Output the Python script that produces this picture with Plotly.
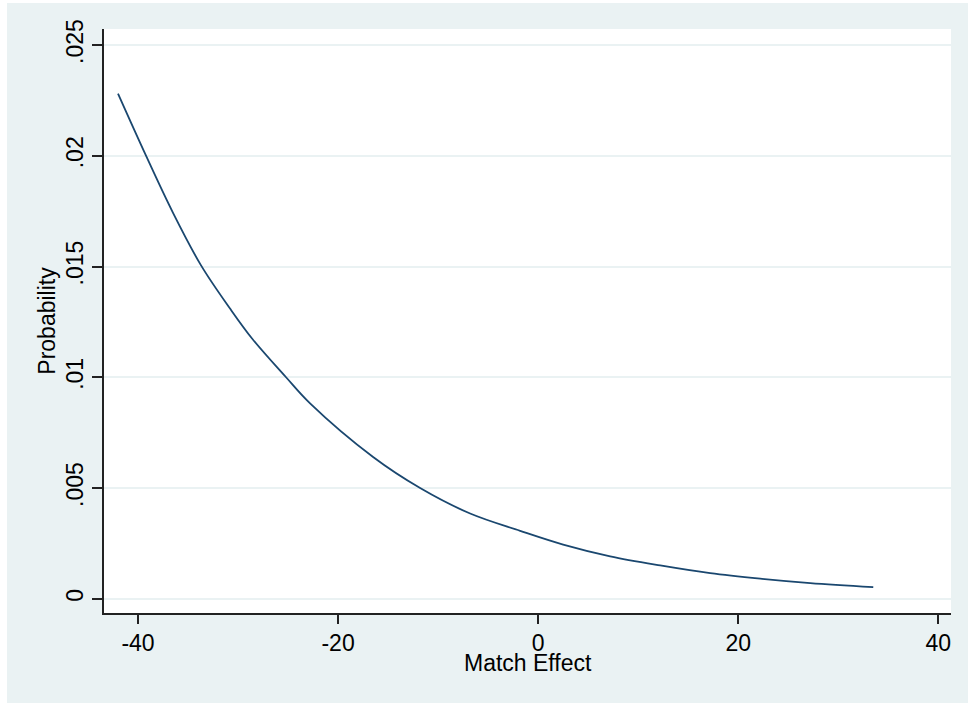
import plotly.graph_objects as go

# Data
match_effect = [-42.0, -39.2, -36.5, -33.7, -30.8, -28.6, -25.2, -22.8, -16.5, -11.8,
                -6.8, -1.8, 2.5, 7.2, 12.2, 17.2, 22.2, 27.2, 33.5]
probability = [0.0228, 0.0200, 0.01742, 0.01505, 0.0131, 0.01175, 0.0100, 0.00882, 0.0064,
               0.0050, 0.00385, 0.00307, 0.00245, 0.00192, 0.00151, 0.00116, 0.00091,
               0.00071, 0.00053]

y_tickvals = [0, 0.005, 0.01, 0.015, 0.02, 0.025]
y_ticktext = ["0", ".005", ".01", ".015", ".02", ".025"]
x_tickvals = [-40, -20, 0, 20, 40]
x_ticktext = ["-40", "-20", "0", "20", "40"]

BG = "#EAF2F3"
LINE = "#1A476F"
AXIS = "#222222"
FONT = "Liberation Sans, Arial, sans-serif"

fig = go.Figure()
fig.add_trace(go.Scatter(
    x=match_effect, y=probability, mode="lines",
    line=dict(color=LINE, width=1.8, shape="spline", smoothing=1.0),
    showlegend=False, hoverinfo="x+y",
))

fig.update_layout(
    width=968, height=703,
    margin=dict(l=104, r=17.3, t=29, b=90.3, pad=0),
    paper_bgcolor=BG, plot_bgcolor="white",
    font=dict(family=FONT, size=23, color="black"),
    showlegend=False,
    shapes=[
        dict(type="rect", xref="paper", yref="paper", x0=-0.14, x1=-0.11456, y0=-0.2, y1=1.1,
             fillcolor="white", line=dict(width=0), layer="below"),
        dict(type="rect", xref="paper", yref="paper", x0=-0.14, x1=1.1, y0=1.04454, y1=1.1,
             fillcolor="white", line=dict(width=0), layer="below"),
    ],
    annotations=[
        dict(text="Match Effect", xref="paper", yref="paper", x=0.5, y=-0.0862,
             xanchor="center", yanchor="middle", showarrow=False,
             font=dict(size=23, color="black", family=FONT)),
    ],
)

fig.update_xaxes(
    range=[-43.4, 41.27], tickvals=x_tickvals, ticktext=x_ticktext,
    showgrid=False, zeroline=False,
    showline=True, linecolor=AXIS, linewidth=1.5,
    ticks="outside", ticklen=9, tickwidth=1.5, tickcolor=AXIS,
    tickfont=dict(size=23, color="black", family=FONT),
)
fig.update_yaxes(
    range=[-0.00064, 0.02572], tickvals=y_tickvals, ticktext=y_ticktext,
    showgrid=True, gridcolor=BG, gridwidth=1.5, zeroline=False,
    showline=True, linecolor=AXIS, linewidth=1.5,
    ticks="outside", ticklen=10, tickwidth=1.5, tickcolor=AXIS,
    tickangle=-90,
    tickfont=dict(size=23, color="black", family=FONT),
    title=dict(text="Probability", font=dict(size=23, color="black", family=FONT), standoff=0),
)

fig.write_html("out.html", config={"displayModeBar": False},
               post_script="document.body.style.margin='0px';")
